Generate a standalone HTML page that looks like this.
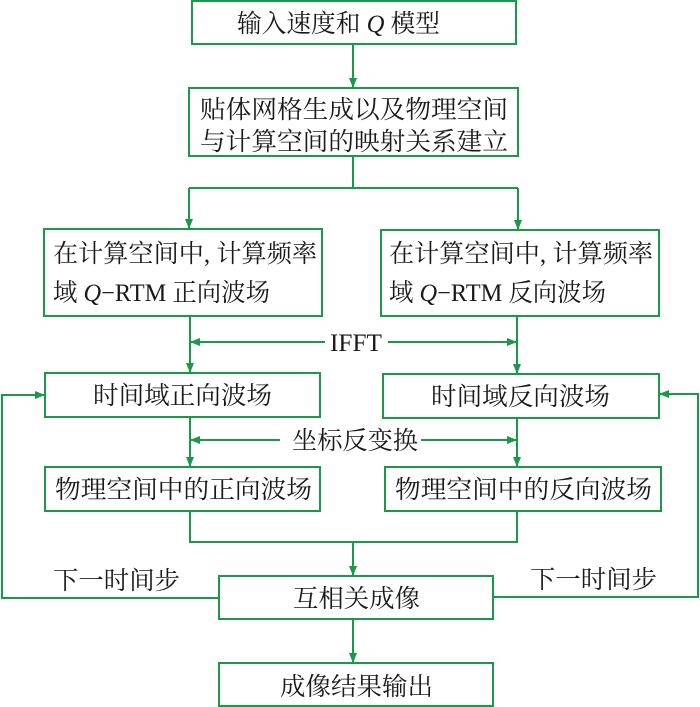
<!DOCTYPE html>
<html><head><meta charset="utf-8"><style>
html,body{margin:0;padding:0;background:#fff}
svg{display:block}
text{font-family:"Liberation Serif","Noto Serif CJK SC","Noto Sans CJK SC",serif;font-size:25px;fill:#1a1a1a}
</style></head><body>
<svg width="700" height="707" viewBox="0 0 700 707" xmlns="http://www.w3.org/2000/svg">
<defs><marker id="a" markerWidth="10" markerHeight="8" refX="9" refY="4" orient="auto" markerUnits="userSpaceOnUse"><path d="M0,0 L10,4 L0,8 z" fill="#1a9a48"/></marker></defs>
<g fill="none" stroke="#1a9a48" stroke-width="2">
<rect x="192" y="1" width="324" height="43"/>
<rect x="189" y="88" width="329" height="68"/>
<rect x="44" y="229" width="278" height="87"/>
<rect x="381" y="230" width="278" height="86"/>
<rect x="45" y="373" width="275" height="44"/>
<rect x="383" y="374" width="276" height="44"/>
<rect x="45" y="467" width="275" height="44"/>
<rect x="385" y="467" width="276" height="44"/>
<rect x="219" y="576" width="274" height="43"/>
<rect x="219" y="663" width="274" height="43"/>
<line x1="353" y1="44" x2="353" y2="87" marker-end="url(#a)"/>
<polyline points="353,156 353,188"/>
<polyline points="189,188 518,188"/>
<line x1="189" y1="188" x2="189" y2="228" marker-end="url(#a)"/>
<line x1="518" y1="188" x2="518" y2="229" marker-end="url(#a)"/>
<line x1="190" y1="316" x2="190" y2="372" marker-end="url(#a)"/>
<line x1="517" y1="316" x2="517" y2="373" marker-end="url(#a)"/>
<line x1="325" y1="342" x2="191" y2="342" marker-end="url(#a)"/>
<line x1="388" y1="342" x2="516" y2="342" marker-end="url(#a)"/>
<line x1="190" y1="417" x2="190" y2="466" marker-end="url(#a)"/>
<line x1="517" y1="418" x2="517" y2="466" marker-end="url(#a)"/>
<line x1="280" y1="440" x2="191" y2="440" marker-end="url(#a)"/>
<line x1="421" y1="440" x2="516" y2="440" marker-end="url(#a)"/>
<polyline points="190,511 190,542 517,542 517,511"/>
<line x1="353" y1="542" x2="353" y2="575" marker-end="url(#a)"/>
<line x1="353" y1="619" x2="353" y2="662" marker-end="url(#a)"/>
<polyline points="219,598 2,598 2,395 44,395" marker-end="url(#a)"/>
<polyline points="493,597 698,597 698,394 660,394" marker-end="url(#a)"/>
</g>
<text x="237" y="32" textLength="203" lengthAdjust="spacingAndGlyphs">输入速度和 <tspan font-style="italic">Q</tspan> 模型</text>
<text x="200" y="118" textLength="308" lengthAdjust="spacingAndGlyphs">贴体网格生成以及物理空间</text>
<text x="200" y="150" textLength="308" lengthAdjust="spacingAndGlyphs">与计算空间的映射关系建立</text>
<text x="53" y="262" textLength="264" lengthAdjust="spacingAndGlyphs">在计算空间中, 计算频率</text>
<text x="53" y="301" textLength="217" lengthAdjust="spacingAndGlyphs">域 <tspan font-style="italic">Q</tspan>−RTM 正向波场</text>
<text x="389" y="262" textLength="264" lengthAdjust="spacingAndGlyphs">在计算空间中, 计算频率</text>
<text x="389" y="301" textLength="217" lengthAdjust="spacingAndGlyphs">域 <tspan font-style="italic">Q</tspan>−RTM 反向波场</text>
<text x="330" y="351" textLength="52" lengthAdjust="spacingAndGlyphs">IFFT</text>
<text x="93" y="404" textLength="179" lengthAdjust="spacingAndGlyphs">时间域正向波场</text>
<text x="431" y="405" textLength="179" lengthAdjust="spacingAndGlyphs">时间域反向波场</text>
<text x="292" y="449" textLength="126" lengthAdjust="spacingAndGlyphs">坐标反变换</text>
<text x="55" y="498" textLength="257" lengthAdjust="spacingAndGlyphs">物理空间中的正向波场</text>
<text x="395" y="498" textLength="257" lengthAdjust="spacingAndGlyphs">物理空间中的反向波场</text>
<text x="53" y="589" textLength="127" lengthAdjust="spacingAndGlyphs">下一时间步</text>
<text x="530" y="588" textLength="127" lengthAdjust="spacingAndGlyphs">下一时间步</text>
<text x="293" y="607" textLength="127" lengthAdjust="spacingAndGlyphs">互相关成像</text>
<text x="280" y="695" textLength="153" lengthAdjust="spacingAndGlyphs">成像结果输出</text>
</svg>
</body></html>
